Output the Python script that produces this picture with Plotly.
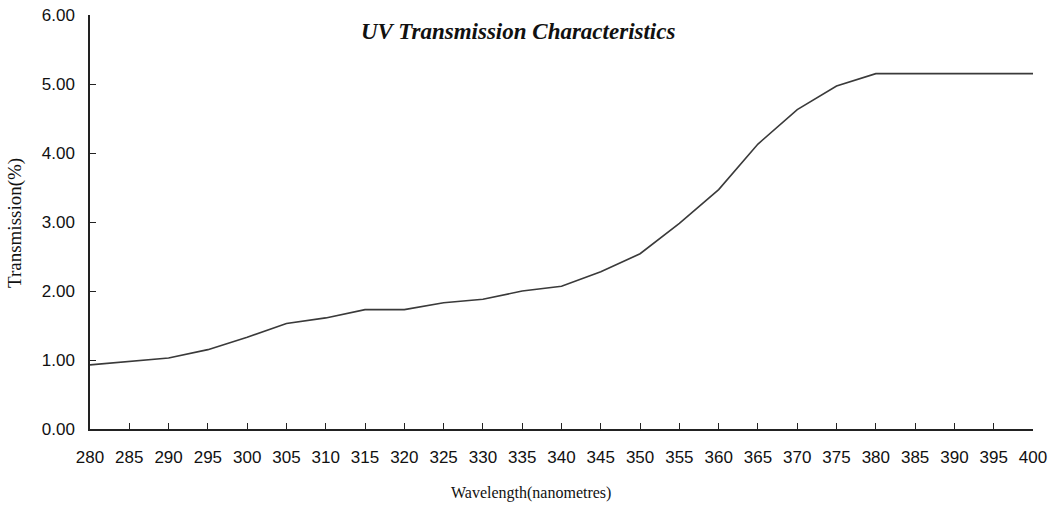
import plotly.graph_objects as go

wavelength = [280, 285, 290, 295, 300, 305, 310, 315, 320, 325, 330, 335, 340,
              345, 350, 355, 360, 365, 370, 375, 380, 385, 390, 395, 400]
transmission = [0.93, 0.98, 1.03, 1.15, 1.33, 1.53, 1.61, 1.73, 1.73, 1.83, 1.88,
                2.00, 2.07, 2.28, 2.54, 2.98, 3.47, 4.13, 4.63, 4.97, 5.15, 5.15,
                5.15, 5.15, 5.15]
y_ticks = [0, 1, 2, 3, 4, 5, 6]
y_tick_labels = ["0.00", "1.00", "2.00", "3.00", "4.00", "5.00", "6.00"]

W, H = 1050, 506
l, r, t, b = 90, 17, 15, 77
pw, ph = W - l - r, H - t - b


def px(xp):
    return (xp - l) / pw


def py(yp):
    return (H - b - yp) / ph


tick_font = dict(family="Liberation Sans, Arial", size=17, color="#111")
serif = "Liberation Serif, Times New Roman"

fig = go.Figure()
fig.add_trace(go.Scatter(x=wavelength, y=transmission, mode="lines",
                         line=dict(color="#3a3a3a", width=1.6), showlegend=False))

fig.update_layout(
    width=W, height=H, autosize=False,
    margin=dict(l=l, r=r, t=t, b=b, autoexpand=False),
    paper_bgcolor="white", plot_bgcolor="white",
    xaxis=dict(range=[280, 400], tickmode="array", tickvals=wavelength,
               ticktext=[str(w) for w in wavelength], automargin=False,
               showline=True, linecolor="#222", linewidth=1.5,
               ticks="inside", ticklen=6, tickcolor="#222", tickwidth=1.2,
               showgrid=False, zeroline=False, ticklabelstandoff=12,
               tickfont=tick_font),
    yaxis=dict(range=[0, 6], tickmode="array", tickvals=y_ticks, ticktext=y_tick_labels,
               automargin=False,
               showline=True, linecolor="#222", linewidth=1.5,
               ticks="inside", ticklen=6, tickcolor="#222", tickwidth=1.2,
               showgrid=False, zeroline=False, ticklabelstandoff=10,
               tickfont=tick_font),
    annotations=[
        dict(text="<b><i>UV Transmission Characteristics</i></b>",
             x=px(518), y=py(32), xref="paper", yref="paper",
             xanchor="center", yanchor="middle", showarrow=False,
             font=dict(family=serif, size=23, color="#111")),
        dict(text="Wavelength(nanometres)",
             x=px(531), y=py(493), xref="paper", yref="paper",
             xanchor="center", yanchor="middle", showarrow=False,
             font=dict(family=serif, size=16, color="#111")),
        dict(text="Transmission(%)", textangle=-90,
             x=px(15), y=py(223), xref="paper", yref="paper",
             xanchor="center", yanchor="middle", showarrow=False,
             font=dict(family=serif, size=19, color="#111")),
    ],
)

fig.write_html("out.html", config={"displayModeBar": False},
               post_script="document.body.style.margin='0';document.body.style.overflow='hidden';")
